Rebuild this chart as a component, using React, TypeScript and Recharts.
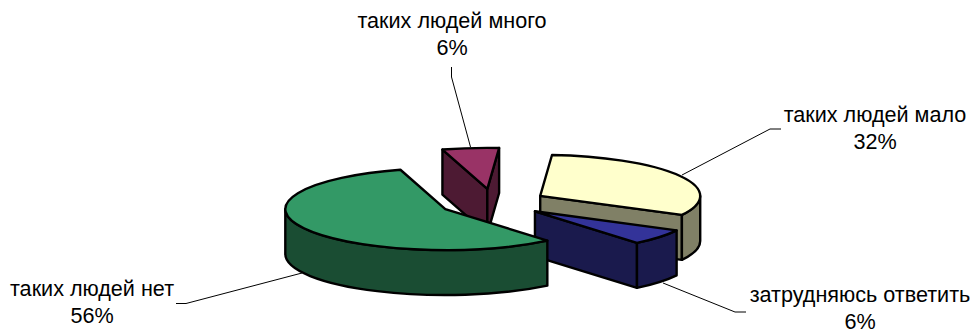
import React from 'react';
import { PieChart, Pie, Cell } from 'recharts';

// order starts at the "много" slice so the painter's order matches the picture
const NAMES = ['таких людей много', 'таких людей мало', 'затрудняюсь ответить', 'таких людей нет'];
const VALUES = [5.7, 31.5, 6.3, 56.45];
const TOP_COLORS = ['#993366', '#FFFFCC', '#333399', '#339966'];
const SIDE_COLORS = ['#4D1A33', '#808066', '#1A1A4D', '#1A4D33'];

// label anchor (centre x, first baseline) and leader line for each slice
const LABEL_X = [452, 875, 860, 92];
const LABEL_Y = [28, 122, 302, 296];
const LEADERS = [
  '451.5,67 451.5,77 470.5,147',
  '781,129 770,129 682,175',
  '746,312 735,312 663,283',
  '176,303.5 186,303.5 302,273',
];

const RADIUS = 160;
const SQUASH = 0.256;
const DEPTH = 45;
const EXPLODE = 54;
const RAD = Math.PI / 180;

const chartData = NAMES.map((name, i) => ({ name, value: VALUES[i] }));

const Slice3D = (props: any) => {
  const { cx, cy, outerRadius, startAngle, endAngle, index } = props;
  const top = Math.max(startAngle, endAngle);
  const bottom = Math.min(startAngle, endAngle);
  const mid = ((top + bottom) / 2) * RAD;
  const ox = cx + EXPLODE * Math.cos(mid);
  const oy = cy - EXPLODE * SQUASH * Math.sin(mid);
  const ry = outerRadius * SQUASH;
  const px = (a: number) => ox + outerRadius * Math.cos(a * RAD);
  const py = (a: number) => oy - ry * Math.sin(a * RAD);
  const side = SIDE_COLORS[index];
  const lineProps = { stroke: '#000', strokeWidth: 2.4, strokeLinejoin: 'round' as const };

  const topLarge = top - bottom > 180 ? 1 : 0;
  const topFace = `M${ox},${oy} L${px(top)},${py(top)} A${outerRadius},${ry} 0 ${topLarge} 1 ${px(bottom)},${py(bottom)} Z`;

  // rim is only visible on the front half of the ellipse
  const rimFrom = Math.min(top, 0);
  const rimTo = Math.max(bottom, -180);
  const rim =
    rimFrom > rimTo
      ? `M${px(rimFrom)},${py(rimFrom)} A${outerRadius},${ry} 0 0 1 ${px(rimTo)},${py(rimTo)} L${px(rimTo)},${py(rimTo) + DEPTH} A${outerRadius},${ry} 0 0 0 ${px(rimFrom)},${py(rimFrom) + DEPTH} Z`
      : null;

  const cut = (a: number) =>
    `M${ox},${oy} L${px(a)},${py(a)} L${px(a)},${py(a) + DEPTH} L${ox},${oy + DEPTH} Z`;
  const showTopCut = Math.cos(top * RAD) < 0;
  const showBottomCut = Math.cos(bottom * RAD) > 0;

  return (
    <g>
      {showTopCut && <path d={cut(top)} fill={side} {...lineProps} />}
      {showBottomCut && <path d={cut(bottom)} fill={side} {...lineProps} />}
      {rim && <path d={rim} fill={side} {...lineProps} />}
      <path d={topFace} fill={TOP_COLORS[index]} {...lineProps} />
    </g>
  );
};

const renderLabel = (props: any) => {
  const { index, name, percent } = props;
  return (
    <g>
      <polyline points={LEADERS[index]} fill="none" stroke="#000" strokeWidth={1} />
      <text x={LABEL_X[index]} y={LABEL_Y[index]} textAnchor="middle" fontFamily="Liberation Sans" fontSize={21.6} fill="#000">
        {name}
      </text>
      <text x={LABEL_X[index]} y={LABEL_Y[index] + 27} textAnchor="middle" fontFamily="Liberation Sans" fontSize={21.6} fill="#000">
        {`${Math.round(percent * 100)}%`}
      </text>
    </g>
  );
};

export default function App() {
  return (
    <div style={{ position: 'absolute', left: 0, top: 0, width: 974, height: 332, background: '#fff' }}>
      <PieChart width={974} height={332} margin={{ top: 0, right: 0, bottom: 0, left: 0 }}>
        <Pie
          data={chartData}
          dataKey="value"
          nameKey="name"
          cx={493}
          cy={202.6}
          innerRadius={0}
          outerRadius={RADIUS}
          startAngle={106.3}
          endAngle={-253.7}
          paddingAngle={0}
          shape={Slice3D}
          label={renderLabel}
          labelLine={false}
          isAnimationActive={false}
        >
          {chartData.map((d, i) => (
            <Cell key={d.name} fill={TOP_COLORS[i]} />
          ))}
        </Pie>
      </PieChart>
    </div>
  );
}
